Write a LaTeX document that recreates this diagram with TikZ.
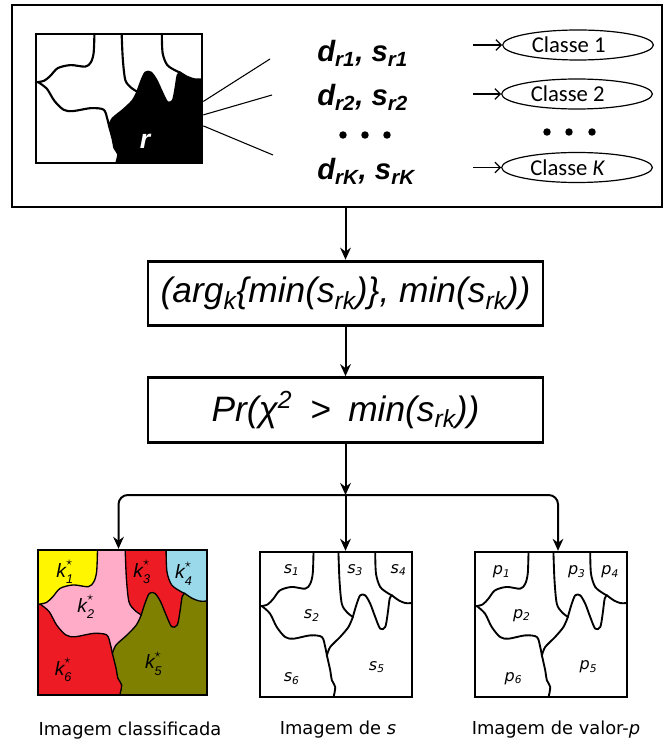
\documentclass[tikz,border=0pt]{standalone}
\usepackage{fontspec}
\setmainfont{Liberation Sans}
\newfontfamily\calibri{Carlito}
\newfontfamily\verdana{DejaVu Sans}
\usetikzlibrary{arrows.meta,shapes.geometric}

\definecolor{kyellow}{RGB}{255,246,0}
\definecolor{kpink}{RGB}{255,172,201}
\definecolor{kred}{RGB}{237,28,36}
\definecolor{kblue}{RGB}{153,217,234}
\definecolor{kolive}{RGB}{128,128,0}

% borders of the six regions, in the unit square (v down)
\newcommand{\mapedges}{%
  \draw[mapline] plot[smooth] coordinates {(0.352,0) (0.347,0.149) (0.330,0.220) (0.297,0.253) (0.209,0.241) (0.132,0.264) (0.088,0.322) (0.050,0.362) (0,0.375)};
  \draw[mapline] plot[smooth] coordinates {(0.015,0.375) (0.066,0.425) (0.110,0.517) (0.165,0.586) (0.220,0.598) (0.330,0.575) (0.407,0.586) (0.429,0.655) (0.440,0.713)};
  \draw[mapline] plot[smooth] coordinates {(0.440,0.713) (0.462,0.816) (0.473,0.885) (0.495,0.931) (0.484,1)};
  \draw[mapline] plot[smooth] coordinates {(0.440,0.713) (0.462,0.655) (0.527,0.586) (0.582,0.517) (0.611,0.448)};
  \draw[mapline] plot[smooth] coordinates {(0.516,0) (0.523,0.195) (0.538,0.356) (0.571,0.414) (0.611,0.448)};
  \draw[mapline] plot[smooth] coordinates {(0.611,0.448) (0.633,0.368) (0.659,0.299) (0.692,0.299) (0.725,0.356) (0.758,0.448) (0.791,0.529) (0.824,0.517) (0.840,0.425) (0.853,0.322) (0.868,0.299)};
  \draw[mapline] plot[smooth] coordinates {(0.758,0) (0.763,0.149) (0.791,0.241) (0.846,0.287) (0.868,0.299)};
  \draw[mapline] plot[smooth] coordinates {(0.868,0.299) (0.912,0.333) (0.956,0.352) (1,0.352)};
}
% regions 1,2,3,4,6 (region 5 is the background)
\newcommand{\mapfills}[5]{%
  \fill[#1] (0,0) -- (0.352,0) -- plot[smooth] coordinates {(0.352,0) (0.347,0.149) (0.330,0.220) (0.297,0.253) (0.209,0.241) (0.132,0.264) (0.088,0.322) (0.050,0.362) (0,0.375)} -- cycle;
  \fill[#2] (0.352,0) -- (0.516,0) -- plot[smooth] coordinates {(0.516,0) (0.523,0.195) (0.538,0.356) (0.571,0.414) (0.611,0.448)}
    -- plot[smooth] coordinates {(0.611,0.448) (0.582,0.517) (0.527,0.586) (0.462,0.655) (0.440,0.713)}
    -- plot[smooth] coordinates {(0.440,0.713) (0.429,0.655) (0.407,0.586) (0.330,0.575) (0.220,0.598) (0.165,0.586) (0.110,0.517) (0.066,0.425) (0.015,0.375)}
    -- (0,0.375) -- plot[smooth] coordinates {(0,0.375) (0.050,0.362) (0.088,0.322) (0.132,0.264) (0.209,0.241) (0.297,0.253) (0.330,0.220) (0.347,0.149) (0.352,0)} -- cycle;
  \fill[#3] (0.516,0) -- (0.758,0) -- plot[smooth] coordinates {(0.758,0) (0.763,0.149) (0.791,0.241) (0.846,0.287) (0.868,0.299)}
    -- plot[smooth] coordinates {(0.868,0.299) (0.853,0.322) (0.840,0.425) (0.824,0.517) (0.791,0.529) (0.758,0.448) (0.725,0.356) (0.692,0.299) (0.659,0.299) (0.633,0.368) (0.611,0.448)}
    -- plot[smooth] coordinates {(0.611,0.448) (0.571,0.414) (0.538,0.356) (0.523,0.195) (0.516,0)} -- cycle;
  \fill[#4] (0.758,0) -- (1,0) -- (1,0.352) -- plot[smooth] coordinates {(1,0.352) (0.956,0.352) (0.912,0.333) (0.868,0.299)}
    -- plot[smooth] coordinates {(0.868,0.299) (0.846,0.287) (0.791,0.241) (0.763,0.149) (0.758,0)} -- cycle;
  \fill[#5] (0,0.375) -- plot[smooth] coordinates {(0.015,0.375) (0.066,0.425) (0.110,0.517) (0.165,0.586) (0.220,0.598) (0.330,0.575) (0.407,0.586) (0.429,0.655) (0.440,0.713)}
    -- plot[smooth] coordinates {(0.440,0.713) (0.462,0.816) (0.473,0.885) (0.495,0.931) (0.484,1)} -- (0,1) -- cycle;
}
\newcommand{\kst}[1]{\textit{k}\rlap{\raisebox{0.6em}{\fontsize{9}{9}\selectfont$\star$}}\raisebox{-0.32em}{\fontsize{9.5}{9.5}\selectfont\itshape #1}}

\begin{document}
\begin{tikzpicture}[x=0.75pt, y=-0.75pt,
    bigarrow/.style={line width=1.5pt, -{Stealth[length=9pt,width=8pt]}},
    smallarrow/.style={line width=0.9pt, -{Straight Barb[length=4pt,width=8pt]}},
    mapline/.style={line join=round, line cap=round},
    formula/.style={draw, line width=2.2pt, minimum width=296.25pt, minimum height=48.5pt, inner sep=0pt, font=\fontsize{26.5}{30}\selectfont\itshape},
    classe/.style={ellipse, draw, line width=0.9pt, minimum width=113pt, minimum height=22.5pt, inner sep=0pt, font=\calibri\fontsize{17}{20}\selectfont},
    dist/.style={anchor=base west, inner sep=0pt, font=\fontsize{22}{26}\selectfont\bfseries\itshape},
    mapbox/.style={draw, line width=1.8pt, minimum height=108.75pt, inner sep=0pt},
    imgcaption/.style={font=\verdana\fontsize{13.4}{16}\selectfont},
    kreg/.style={inner sep=0pt, font=\fontsize{14.5}{17}\selectfont\itshape},
    sreg/.style={inner sep=0pt, font=\verdana\fontsize{12}{14}\selectfont\itshape}
  ]
  \useasboundingbox (0,0) rectangle (665,745);

  % upper frame
  \node[draw, line width=2.2pt, minimum width=487.5pt, minimum height=151.5pt] (top) at (337,106) {};
  \begin{scope}[shift={(36,34)}, xscale=166, yscale=129, line width=1.6pt]
    \fill[black] (0,0) rectangle (1,1);
    \mapfills{white}{white}{white}{white}{white}
    \mapedges
  \end{scope}
  \node[draw, line width=2pt, minimum width=124.5pt, minimum height=96.75pt] (rimg) at (119,98.5) {};
  \node[text=white, font=\fontsize{20}{24}\selectfont\bfseries\itshape] (rlabel) at (145,141) {r};

  \coordinate (e1) at (270,59);
  \coordinate (e2) at (272,95);
  \coordinate (e3) at (273,155);
  \draw[line width=0.8pt] (rimg.-2) -- (e1);
  \draw[line width=0.8pt] (rimg.-11) -- (e2);
  \draw[line width=0.8pt] (rimg.-18) -- (e3);

  \node[dist] (dr1) at (317,62) {d\textsubscript{r1}, s\textsubscript{r1}};
  \node[dist] (dr2) at (317,106) {d\textsubscript{r2}, s\textsubscript{r2}};
  \node[dist] (drK) at (317,180) {d\textsubscript{rK}, s\textsubscript{rK}};
  \foreach \x in {343,365,387} \fill (\x,135) circle (2.8pt);
  \foreach \x in {547,569,592} \fill (\x,132) circle (2.8pt);

  \node[classe] (cls1) at (578,45) {\hspace*{-14pt}Classe 1};
  \node[classe] (cls2) at (577,94) {\hspace*{-14pt}Classe 2};
  \node[classe] (clsK) at (577,167.5) {\hspace*{-14pt}Classe \textit{K}};
  \coordinate (a1) at (473,45);
  \coordinate (a2) at (473,94);
  \coordinate (aK) at (473,167.5);
  \draw[smallarrow] (a1) -- (cls1.west);
  \draw[smallarrow] (a2) -- (cls2.west);
  \draw[smallarrow] (aK) -- (clsK.west);

  % formulas
  \node[formula] (argbox) at (345.5,293.5) {(arg\textsubscript{k}\{min(s\textsubscript{rk})\}, min(s\textsubscript{rk}))};
  \node[formula] (prbox) at (345.5,410) {Pr(χ\textsuperscript{2}\hspace{0.5em}>\hspace{0.5em}min(s\textsubscript{rk}))};

  % output images
  \begin{scope}[shift={(38,550)}, xscale=169, yscale=145, line width=1pt]
    \fill[kolive] (0,0) rectangle (1,1);
    \mapfills{kyellow}{kpink}{kred}{kblue}{kred}
    \mapedges
    \foreach \n/\u/\v in {1/0.158/0.149, 2/0.283/0.39, 3/0.614/0.149, 4/0.861/0.161, 5/0.683/0.782, 6/0.149/0.828}
      \node[kreg] (k\n) at (\u,\v) {\kst{\n}};
  \end{scope}
  \node[mapbox, minimum width=126.75pt] (imgK) at (122.5,622.5) {};

  \begin{scope}[shift={(260,552)}, xscale=152, yscale=145, line width=1.4pt]
    \mapedges
    \foreach \n/\u/\v in {1/0.209/0.126, 2/0.341/0.437, 3/0.626/0.126, 4/0.912/0.126, 5/0.769/0.793, 6/0.209/0.874}
      \node[sreg] (s\n) at (\u,\v) {s\textsubscript{\n}};
  \end{scope}
  \node[mapbox, minimum width=114pt] (imgS) at (336,624.5) {};

  \begin{scope}[shift={(475,552)}, xscale=152, yscale=145, line width=1.4pt]
    \mapedges
    \foreach \n/\u/\v in {1/0.176/0.138, 2/0.308/0.437, 3/0.67/0.138, 4/0.89/0.138, 5/0.747/0.793, 6/0.253/0.874}
      \node[sreg] (p\n) at (\u,\v) {p\textsubscript{\n}};
  \end{scope}
  \node[mapbox, minimum width=114pt] (imgP) at (551,624.5) {};

  \node[imgcaption] (capK) at (130,731) {Imagem classificada};
  \node[imgcaption] (capS) at (338,730) {Imagem de \textit{s}};
  \node[imgcaption] (capP) at (556,730) {Imagem de valor-\textit{p}};

  % arrows
  \coordinate (fork) at (345.5,495);
  \draw[bigarrow] (argbox.north |- top.south) -- (argbox.north);
  \draw[bigarrow] (argbox.south) -- (prbox.north);
  \draw[bigarrow] (prbox.south) -- (fork);
  \draw[bigarrow] (fork) -- (fork |- imgS.north);
  \draw[bigarrow, rounded corners=7pt] (fork) -| ([xshift=-3pt]imgK.north);
  \draw[bigarrow, rounded corners=7pt] (fork) -| ([xshift=5.25pt]imgP.north);
\end{tikzpicture}
\end{document}
